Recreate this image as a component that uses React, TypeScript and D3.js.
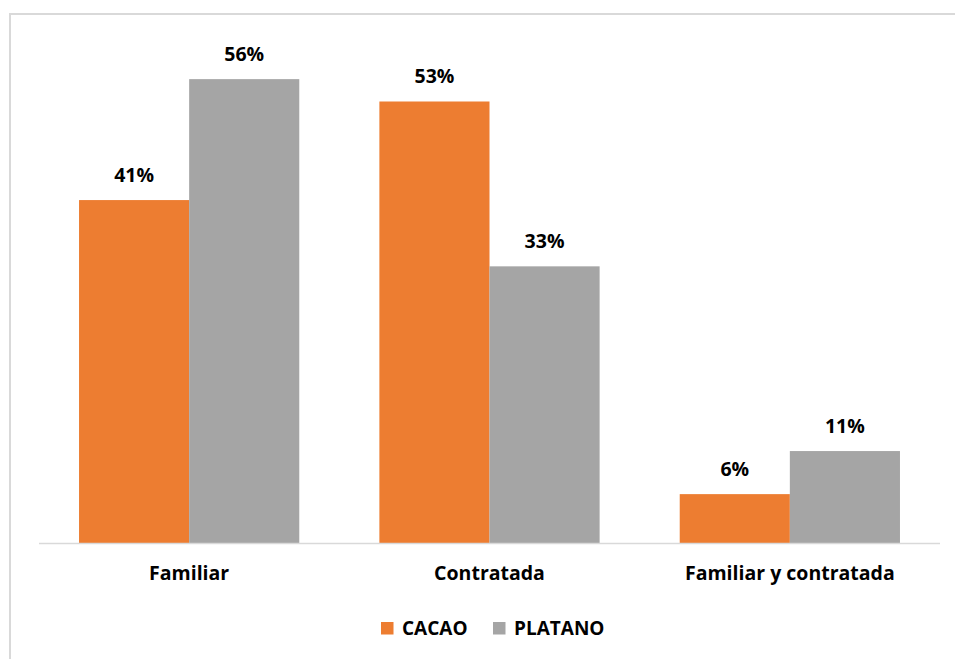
import React from "react";
import * as d3 from "d3";

const categories = ["Familiar", "Contratada", "Familiar y contratada"];
const seriesNames = ["CACAO", "PLATANO"];
const cacao = [41.4, 53.3, 5.9];
const platano = [56, 33.4, 11.1];
const colors = ["#ED7D31", "#A5A5A5"];

const W = 955;
const H = 659;

export default function App() {
  const left = 39, right = 940, baseline = 543, top = 46;
  const x0 = d3.scaleBand<string>().domain(categories).range([left, right]).paddingInner(0.2667).paddingOuter(0.1333);
  const x1 = d3.scaleBand<string>().domain(seriesNames).range([0, x0.bandwidth()]);
  const y = d3.scaleLinear().domain([0, 60]).range([baseline, top]);
  const series = [cacao, platano];
  const font = "'Open Sans', sans-serif";
  return (
    <svg width={W} height={H} style={{ position: "absolute", left: 0, top: 0 }}>
      <rect x={0} y={0} width={W} height={H} fill="#fff" />
      <rect x={10} y={14} width={W + 20} height={H + 20} fill="#fff" stroke="#d9d9d9" strokeWidth={2} />
      {categories.map((c, i) =>
        series.map((vals, s) => {
          const bx = (x0(c) as number) + (x1(seriesNames[s]) as number);
          const bw = x1.bandwidth();
          const v = vals[i];
          return (
            <g key={c + s}>
              <rect x={bx} y={y(v)} width={bw} height={baseline - y(v)} fill={colors[s]} />
              <text x={bx + bw / 2} y={y(v) - 18} textAnchor="middle" fontFamily={font} fontWeight="bold" fontSize={19.5} fill="#000">
                {Math.round(v)}%
              </text>
            </g>
          );
        })
      )}
      <line x1={left} x2={right} y1={baseline + 0.5} y2={baseline + 0.5} stroke="#d9d9d9" strokeWidth={1.5} />
      {categories.map((c) => (
        <text key={c} x={(x0(c) as number) + x0.bandwidth() / 2} y={580} textAnchor="middle" fontFamily={font} fontWeight="bold" fontSize={19.5} fill="#000">
          {c}
        </text>
      ))}
      {seriesNames.map((n, i) => {
        const lx = [381, 493][i];
        return (
          <g key={n}>
            <rect x={lx} y={622} width={12.5} height={12.5} fill={colors[i]} />
            <text x={lx + 21} y={635} fontFamily={font} fontWeight="bold" fontSize={19} fill="#000">{n}</text>
          </g>
        );
      })}
    </svg>
  );
}
